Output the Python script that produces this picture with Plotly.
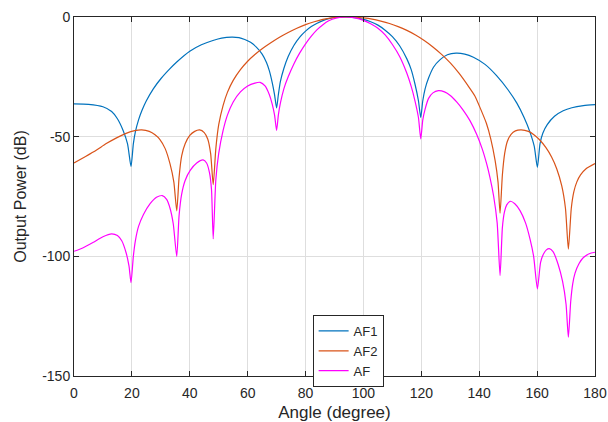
import plotly.graph_objects as go

# AF1 pattern (dB) sampled along angle (degrees)
af1_angle = [0, 5, 10, 13, 15, 17, 18.5, 19.7, 20.5, 21.2, 22.3, 23.5, 25, 27.4, 30, 33,
             35.5, 40, 44, 48, 51, 54.5, 57, 59, 61, 63, 65, 66.5, 67.5, 68.5, 69.3, 70,
             70.6, 71.3, 72.5, 74, 76, 78, 80, 82, 84, 86, 88, 91, 94, 97, 100, 102.5,
             105, 107.5, 110, 112.5, 115, 116.5, 117.8, 119, 119.8, 120.5, 121.3, 122.5,
             124.2, 126.5, 129, 132, 135, 138, 142, 146, 150, 153, 155.5, 157.5, 159,
             160.1, 161, 162, 163.5, 166, 169, 172, 176, 180]
af1_db = [-36.3, -36.5, -37.5, -39.5, -42.5, -47.5, -53, -62.5, -53, -48, -43, -39, -35,
          -30, -25.8, -21.8, -18.8, -14.3, -11.6, -9.8, -8.8, -8.4, -8.6, -9.4, -10.6,
          -12.6, -15.5, -19, -22.5, -27.5, -32.5, -38, -32.5, -27, -21.5, -16.5, -11.8,
          -8.4, -5.9, -4.0, -2.6, -1.5, -0.7, -0.1, 0, -0.3, -1.0, -2.0, -3.4, -5.5,
          -8.2, -12, -17.5, -22, -28, -35, -42, -35, -30, -25.5, -21, -17.8, -15.8,
          -15.1, -15.5, -16.8, -19.8, -24.5, -30.5, -36, -42, -48, -54, -62.8, -53,
          -48.5, -45, -41.5, -39.2, -37.9, -37, -36.6]

# AF2 pattern (dB)
af2_angle = [0, 4, 7.8, 11, 14.7, 18, 21, 23.4, 26, 28, 29.7, 31.5, 33.2, 34.5, 35.5,
             36.3, 37.2, 38.4, 40, 41.7, 43.4, 45, 46.2, 47.2, 48.1, 49, 50, 51.5, 53, 55,
             57.5, 60, 62.5, 65, 68, 71, 74, 77, 80, 83, 86, 89, 92, 94, 97, 100, 103,
             106, 109, 112, 115, 118, 121, 124, 127, 130, 133, 136, 138.5, 140.5, 142.5,
             144, 145.5, 146.5, 147.2, 148, 148.8, 149.7, 151, 152.5, 154.5, 157, 159,
             161, 163, 165, 166.8, 168.5, 169.8, 170.8, 171.8, 172.7, 173.7, 175, 177, 180]
af2_db = [-61, -58.3, -55.6, -53, -50.5, -48.6, -47.5, -47.2, -47.8, -49.2, -51.2, -55,
          -61.5, -69, -81, -67, -58, -53, -49.5, -47.8, -47.2, -48.3, -51, -57, -70, -55,
          -45, -37, -31.5, -26.5, -22, -18.5, -15.7, -13.3, -10.8, -8.5, -6.5, -4.7, -3.2,
          -2.0, -1.0, -0.35, -0.05, 0, -0.1, -0.4, -0.9, -1.7, -2.7, -4.0, -5.6, -7.5,
          -9.8, -12.5, -15.6, -19.2, -23.5, -28.5, -33, -38.5, -44.5, -51, -60, -69, -82,
          -66, -57, -52, -49, -47.6, -47.2, -47.8, -49.3, -51.5, -54.5, -58.5, -63.5,
          -70.5, -80, -97, -80, -73, -69, -66, -63.3, -61.2]

# Combined AF pattern (dB)
af_angle = [0, 3, 6.7, 10, 13, 15, 16.5, 18, 19, 19.7, 20.5, 21.2, 22.3, 24, 26.3, 28.5,
            30.5, 32, 33.2, 34.3, 35.5, 36.3, 37.2, 38.4, 40.2, 42.4, 44.6, 45.8, 46.8,
            47.5, 48.1, 49, 50, 51.5, 53, 55, 57.5, 60, 62.5, 64.3, 66, 67.5, 68.5, 69.3,
            70, 70.6, 71.3, 72.5, 74, 76, 78, 80, 82, 84, 86, 88, 90.5, 94, 97, 100, 102.5,
            105, 107.5, 110, 112.5, 115, 116.5, 117.8, 119, 119.8, 120.5, 121.3, 122.5,
            124, 125.9, 128, 130, 132.2, 134.5, 136.8, 139.1, 141, 142.6, 143.7, 145,
            146.2, 147.2, 148, 148.7, 149.5, 150.7, 152.3, 154.1, 156, 157.6, 158.8,
            160.1, 161.2, 162.2, 163.2, 164.2, 165.5, 167.3, 168.8, 170, 170.8, 171.6,
            172.3, 173.1, 174.5, 176, 178, 180]
af_db = [-97.9, -96.5, -94.1, -91.8, -90.6, -91.3, -93.5, -98.5, -104, -111, -100, -93.5,
         -87.5, -82.5, -78, -75.3, -74.6, -76.2, -80, -86.5, -100.1, -83, -74, -68.3, -64,
         -61, -59.7, -61, -65, -72, -92.7, -68, -57, -47.5, -41, -35.5, -31.3, -28.8,
         -27.6, -27.3, -28.8, -32.5, -36.5, -41, -47.4, -41, -36, -30, -25, -19.5, -15,
         -11.2, -8, -5.3, -3.2, -1.6, -0.5, 0, -0.4, -1.4, -2.8, -4.7, -7.5, -11.5, -16.5,
         -23.5, -29, -35, -42, -50.9, -43, -38.5, -34, -31.7, -30.8, -31.3, -32.8, -35.5,
         -39, -43.3, -49, -55, -61.5, -67, -75, -86, -108, -88, -81.5, -78.5, -77, -78,
         -80.9, -86, -93, -100, -113.6, -102.5, -99, -97.3, -96.8, -98, -103.5, -110.5,
         -120, -133.8, -119, -111.5, -107, -103, -100.5, -98.9, -98.3]

x_ticks = [0, 20, 40, 60, 80, 100, 120, 140, 160, 180]
y_ticks = [0, -50, -100, -150]

series = [
    ("AF1", af1_angle, af1_db, "#0072BD"),
    ("AF2", af2_angle, af2_db, "#D95319"),
    ("AF", af_angle, af_db, "#FF00FF"),
]

FONT = "Liberation Sans, Arial"
INK = "#262626"

fig = go.Figure()
for name, ang, db, color in series:
    fig.add_trace(go.Scatter(x=ang, y=db, mode="lines", name=name,
                             line=dict(color=color, width=1.2, shape="spline", smoothing=0.6)))

axis_style = dict(
    showline=True, linecolor=INK, linewidth=1, mirror="ticks",
    ticks="inside", ticklen=5, tickcolor=INK, tickwidth=1,
    showgrid=True, gridcolor="#dedede", gridwidth=1, zeroline=False,
    tickfont=dict(family=FONT, size=14, color=INK),
)

fig.update_xaxes(range=[0, 180], tickvals=x_ticks, ticktext=[str(v) for v in x_ticks],
                 ticklabelstandoff=4,
                 title=dict(text="Angle (degree)", standoff=8,
                            font=dict(family=FONT, size=17, color=INK)),
                 **axis_style)
fig.update_yaxes(range=[-150, 0], tickvals=y_ticks, ticktext=[str(v) for v in y_ticks],
                 title=dict(text="Output Power (dB)", standoff=11,
                            font=dict(family=FONT, size=16, color=INK)),
                 **axis_style)

fig.update_layout(
    width=608, height=422,
    margin=dict(l=74, r=13, t=17, b=46, autoexpand=False),
    paper_bgcolor="white", plot_bgcolor="white",
    showlegend=True,
    legend=dict(x=0.458, y=0.17, xanchor="left", yanchor="top",
                bgcolor="white", bordercolor=INK, borderwidth=1,
                font=dict(family=FONT, size=13, color=INK),
                tracegroupgap=0, itemwidth=30),
)

fig.write_html("out.html")
